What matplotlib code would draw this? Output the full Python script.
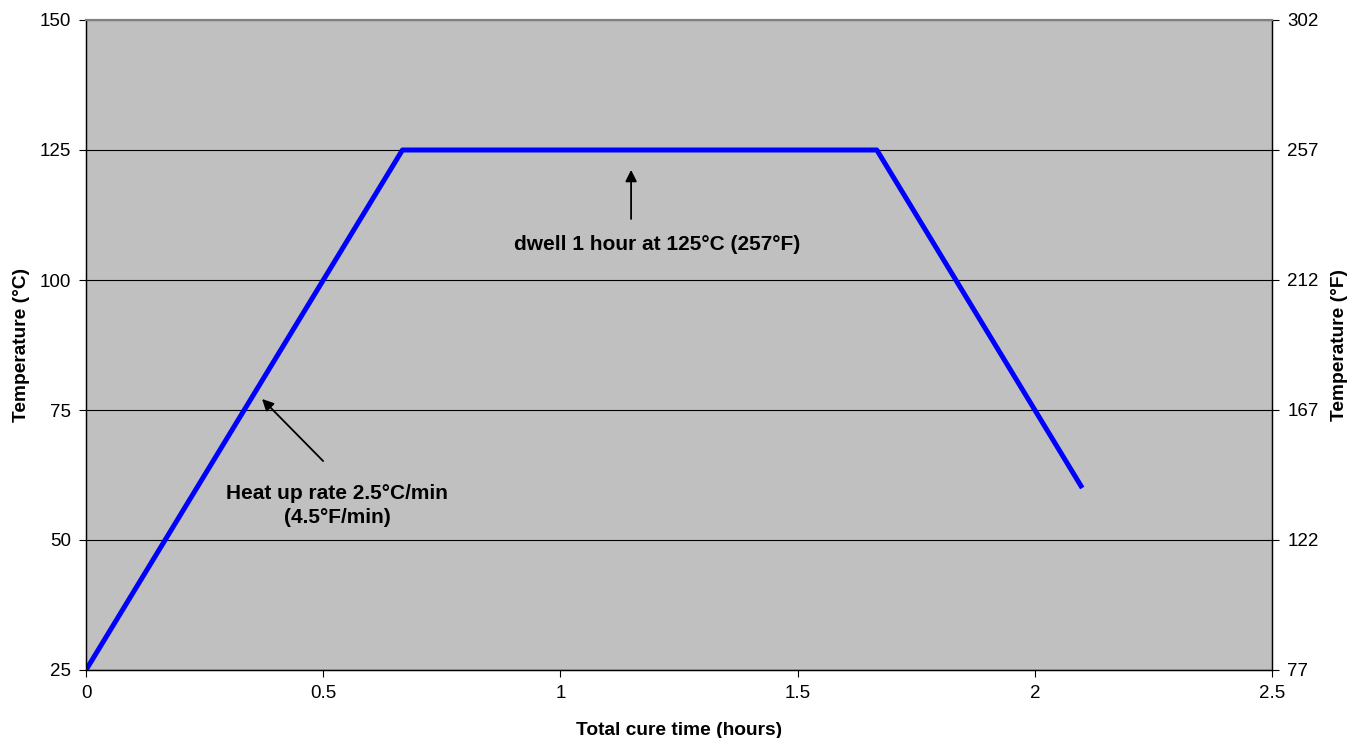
import matplotlib
matplotlib.use("Agg")
import matplotlib.pyplot as plt

plt.rcParams['font.family'] = ['Liberation Sans', 'DejaVu Sans']

# Data
time_h = [0.0, 0.667, 1.667, 2.1]
temp_c = [25, 125, 125, 60]
x_ticks = [0, 0.5, 1, 1.5, 2, 2.5]
x_tick_labels = ["0", "0.5", "1", "1.5", "2", "2.5"]
y_ticks_c = [25, 50, 75, 100, 125, 150]
y_ticks_f = [77, 122, 167, 212, 257, 302]

fig = plt.figure(figsize=(13.48, 7.38), dpi=100)
ax = fig.add_axes([86/1348, 1-670/738, (1272-86)/1348, (670-20)/738])
ax.set_facecolor('#C0C0C0')

for y in y_ticks_c:
    ax.axhline(y, color='black', lw=0.8, zorder=1)

ax.plot(time_h, temp_c, color='#0000FF', lw=3.6, zorder=3, solid_capstyle='butt')

ax.set_xlim(0, 2.5)
ax.set_ylim(25, 150)
ax.set_xticks(x_ticks)
ax.set_xticklabels(x_tick_labels)
ax.set_yticks(y_ticks_c)
ax.tick_params(direction='out', length=5, width=0.8, labelsize=13.5, pad=6)

for s in ['left', 'bottom', 'right']:
    ax.spines[s].set_color('black')
    ax.spines[s].set_linewidth(0.9)
ax.spines['top'].set_color('#808080')
ax.spines['top'].set_linewidth(1.5)

ax.set_xlabel('Total cure time (hours)', fontsize=13.8, fontweight='bold', labelpad=14)
ax.set_ylabel('Temperature (°C)', fontsize=13.8, fontweight='bold', labelpad=7)

ax2 = ax.twinx()
ax2.set_ylim(77, 302)
ax2.set_yticks(y_ticks_f)
ax2.tick_params(direction='out', length=5, width=0.8, labelsize=13.5, pad=6)
ax2.set_ylabel('Temperature (°F)', fontsize=13.8, fontweight='bold', labelpad=9)
for s in ['left', 'bottom', 'right']:
    ax2.spines[s].set_color('black')
    ax2.spines[s].set_linewidth(0.9)
ax2.spines['top'].set_color('#808080')
ax2.spines['top'].set_linewidth(1.5)

ax.annotate('', xy=(0.367, 77.5), xytext=(0.504, 64.8),
            arrowprops=dict(arrowstyle='-|>', color='black', lw=1.3, mutation_scale=17),
            zorder=4)
ax.text(0.530, 56.7, 'Heat up rate 2.5°C/min\n(4.5°F/min)', ha='center', va='center',
        fontsize=15, fontweight='bold', linespacing=1.35, zorder=4)

ax.annotate('', xy=(1.149, 121.7), xytext=(1.149, 111.2),
            arrowprops=dict(arrowstyle='-|>', color='black', lw=1.3, mutation_scale=17),
            zorder=4)
ax.text(1.203, 106.9, 'dwell 1 hour at 125°C (257°F)', ha='center', va='center',
        fontsize=15, fontweight='bold', zorder=4)

fig.savefig('out.png', dpi=100)
